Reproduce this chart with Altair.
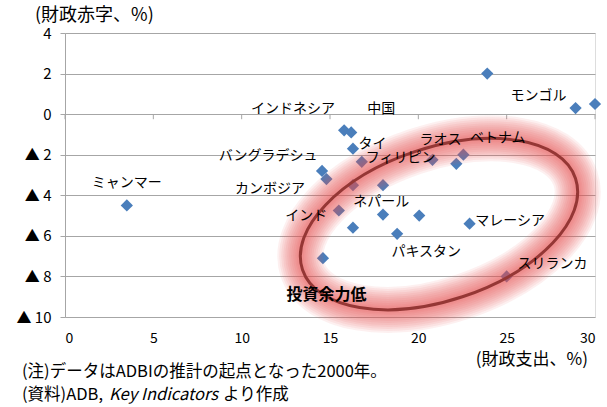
import altair as alt
import pandas as pd

FONT = "Noto Sans CJK JP"

# Scatter data: fiscal spending (% , x) vs fiscal balance (%, y)
spend = [23.9, 28.9, 30.0, 3.5, 15.8, 16.2, 16.3, 16.8, 14.55, 14.8, 16.3, 18.0,
         15.5, 18.0, 16.3, 18.8, 14.6, 20.05, 22.9, 25.0, 20.8, 22.15, 22.55]
balance = [2.0, 0.3, 0.5, -4.5, -0.8, -0.9, -1.7, -2.35, -2.8, -3.2, -3.5, -3.5,
           -4.75, -4.95, -5.6, -5.9, -7.1, -5.0, -5.4, -8.0, -2.25, -2.45, -2.0]

# Country labels
label_names = ["モンゴル", "中国", "インドネシア", "タイ", "バングラデシュ", "フィリピン",
               "ラオス", "ベトナム", "ミャンマー", "カンボジア", "ネパール", "インド",
               "マレーシア", "パキスタン", "スリランカ"]
label_x = [26.8, 17.9, 12.9, 17.4, 11.5, 19.0, 21.25, 24.5, 3.5, 11.6, 17.9, 13.65,
           25.2, 20.45, 27.6]
label_y = [0.88, 0.25, 0.25, -1.47, -2.06, -2.16, -1.27, -1.18, -3.38, -3.68, -4.31,
           -5.0, -5.25, -6.8, -7.4]

x_ticks = [0, 5, 10, 15, 20, 25, 30]
y_ticks = [4, 2, 0, -2, -4, -6, -8, -10]

ellipse_center_x = [21.17]
ellipse_center_y = [-5.42]
note_label_x = [14.8]
note_label_y = [-8.92]

GRID = "#a6a6a6"
W, H = 530, 284

pts = pd.DataFrame({"x": spend, "y": balance})
labels = pd.DataFrame({"name": label_names, "x": label_x, "y": label_y})
ticks = pd.DataFrame({"x": x_ticks, "y": [0] * len(x_ticks), "y2": [-0.25] * len(x_ticks)})
ell = pd.DataFrame({"x": ellipse_center_x, "y": ellipse_center_y})
lowtxt = pd.DataFrame({"x": note_label_x, "y": note_label_y, "t": ["投資余力低"]})

xscale = alt.Scale(domain=[0, 30], nice=False, zero=False)
yscale = alt.Scale(domain=[-10, 4], nice=False, zero=False)

X = alt.X("x:Q", scale=xscale, axis=alt.Axis(values=x_ticks, title=None, domain=False,
          ticks=False, grid=False, labelFont=FONT, labelFontSize=14, labelColor="#000",
          labelPadding=14))
Y = alt.Y("y:Q", scale=yscale, axis=alt.Axis(values=y_ticks, title=None, domainColor=GRID,
          tickColor=GRID, tickSize=5, gridColor=GRID, gridWidth=1, labelFont=FONT,
          labelFontSize=15, labelColor="#000", labelPadding=9,
          labelExpr="datum.value < 0 ? '▲ ' + abs(datum.value) : '' + datum.value"))

points = alt.Chart(pts).mark_point(shape="diamond", filled=True, size=150,
                                   color="#4a7ebb", opacity=1).encode(x=X, y=Y)

tick_marks = alt.Chart(ticks).mark_rule(color=GRID, strokeWidth=1).encode(
    x=alt.X("x:Q", scale=xscale), y=alt.Y("y:Q", scale=yscale), y2="y2:Q")

text_labels = alt.Chart(labels).mark_text(font=FONT, fontSize=14, color="#000",
                                          align="center", baseline="middle").encode(
    x=alt.X("x:Q", scale=xscale), y=alt.Y("y:Q", scale=yscale), text="name:N")

low_label = alt.Chart(lowtxt).mark_text(font=FONT, fontSize=16, fontWeight="bold",
                                        color="#000", align="center",
                                        baseline="middle").encode(
    x=alt.X("x:Q", scale=xscale), y=alt.Y("y:Q", scale=yscale), text="t:N")

# Ellipse outline as a custom symbol path (unit box -1..1), rotated -18.5 degrees
ELL = ("M 0.948 -0.317 A 1 0.53 -18.5 0 1 0.168 0.503 "
       "A 1 0.53 -18.5 0 1 -0.948 0.317 A 1 0.53 -18.5 0 1 -0.168 -0.503 "
       "A 1 0.53 -18.5 0 1 0.948 -0.317 Z")
ESIZE = 288 ** 2

glows = []
for w in [46, 42, 38, 34, 30, 26, 22, 18, 14, 10, 7]:
    glows.append(alt.Chart(ell).mark_point(shape=ELL, size=ESIZE, filled=False,
                                           stroke="#e65555", strokeWidth=w,
                                           strokeOpacity=0.085, fillOpacity=0).encode(
        x=alt.X("x:Q", scale=xscale), y=alt.Y("y:Q", scale=yscale)))

ring = alt.Chart(ell).mark_point(shape=ELL, size=ESIZE, filled=False, stroke="#953735",
                                 strokeWidth=3, strokeOpacity=1, fillOpacity=0).encode(
    x=alt.X("x:Q", scale=xscale), y=alt.Y("y:Q", scale=yscale))


def txt(s, x, y, size, align="left", style="normal", weight="normal"):
    return alt.Chart(pd.DataFrame({"t": [s]})).mark_text(
        font=FONT, fontSize=size, align=align, baseline="middle", color="#000",
        fontStyle=style, fontWeight=weight).encode(
        x=alt.value(x), y=alt.value(y), text="t:N")


annots = [
    txt("(財政赤字、%)", -30, -17, 18),
    txt("(財政支出、%)", 523, 327, 17, align="right"),
    txt("(注)データはADBIの推計の起点となった2000年。", -43, 339, 16.5),
    txt("(資料)ADB,", -43, 362, 16.5),
    txt("Key  Indicators", 44, 362, 16.5, style="italic"),
    txt("より作成", 158, 362, 16.5),
]

chart = alt.layer(points, tick_marks, *glows, ring, text_labels, low_label, *annots).properties(
    width=W, height=H,
    autosize=alt.AutoSizeParams(type="none"),
    padding={"left": 65, "top": 33, "right": 12, "bottom": 90},
).configure_view(stroke=None).configure(background="white")

chart.save("out.html", embed_options={"renderer": "svg", "actions": False})
